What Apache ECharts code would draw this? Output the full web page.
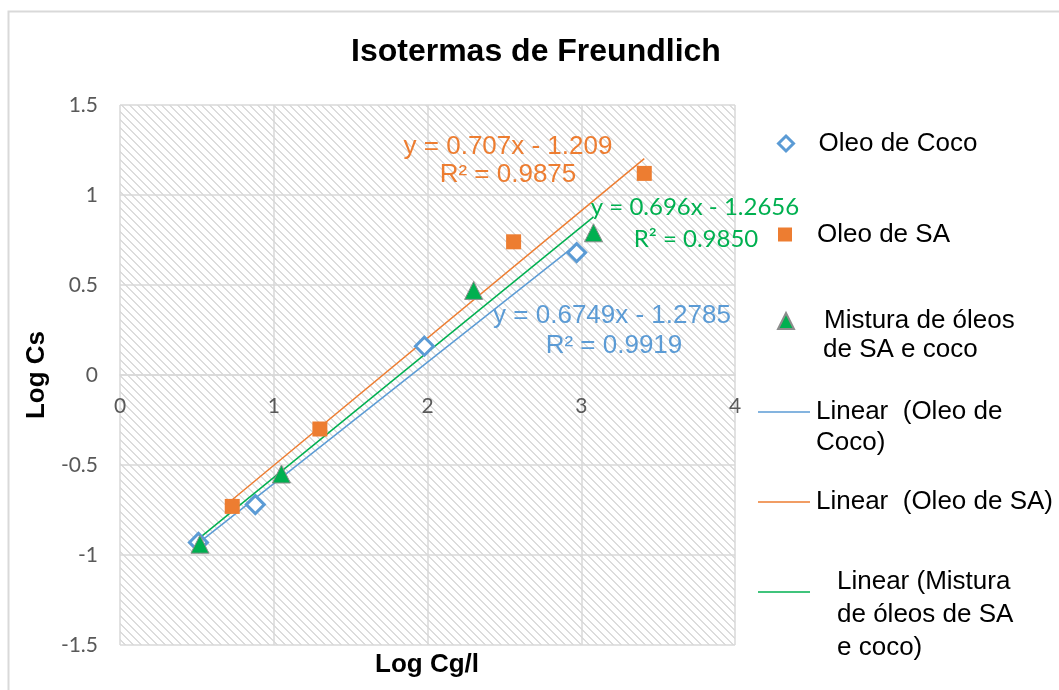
<!DOCTYPE html>
<html>
<head>
<meta charset="utf-8">
<script src="https://cdn.jsdelivr.net/npm/echarts@6/dist/echarts.min.js"></script>
<style>
  html, body { margin: 0; padding: 0; background: #fff; }
  #chart { width: 1059px; height: 690px; }
</style>
</head>
<body>
<div id="chart"></div>
<script>
// Log Cg/l (x) and Log Cs (y) for each oil
const seriesNames = ['Oleo de Coco', 'Oleo de SA', 'Mistura de óleos de SA e coco'];
const trendNames = ['Linear  (Oleo de Coco)', 'Linear  (Oleo de SA)', 'Linear (Mistura de óleos de SA e coco)'];
const cocoX = [0.51, 0.88, 1.98, 2.97];
const cocoY = [-0.93, -0.72, 0.16, 0.68];
const saX = [0.73, 1.30, 2.56, 3.41];
const saY = [-0.73, -0.30, 0.74, 1.12];
const mixX = [0.52, 1.05, 2.30, 3.08];
const mixY = [-0.94, -0.55, 0.47, 0.79];

// Fitted linear trend lines: y = slope * x + intercept
const slopes = [0.6749, 0.707, 0.696];
const intercepts = [-1.2785, -1.209, -1.2656];
const r2 = ['0.9919', '0.9875', '0.9850'];

// Axis ranges
const xMin = 0, xMax = 4, xStep = 1;
const yMin = -1.5, yMax = 1.5, yStep = 0.5;

const colors = ['#5b9bd5', '#ed7d31', '#00b050'];

function pairs(xs, ys) { return xs.map((x, i) => [x, ys[i]]); }
function fmt(n) { return (n < 0 ? ' - ' : ' + ') + Math.abs(n); }
function trend(i, xs) {
  const lo = Math.min(...xs), hi = Math.max(...xs);
  return [[lo, slopes[i] * lo + intercepts[i]], [hi, slopes[i] * hi + intercepts[i]]];
}
function eqText(i) { return 'y = ' + slopes[i] + 'x' + fmt(intercepts[i]); }

// Plot area geometry
const W = 1059, H = 690;
const gridBox = { left: 120, right: 324, top: 105, bottom: 45 };
const plotH = H - gridBox.top - gridBox.bottom;
// the horizontal axis crosses the vertical one at y = 0
const xAxisShift = -plotH * (0 - yMin) / (yMax - yMin);

// Diagonal hatch used as the plot area fill
const tile = document.createElement('canvas');
tile.width = 8; tile.height = 8;
const tc = tile.getContext('2d');
tc.fillStyle = '#ffffff';
tc.fillRect(0, 0, 8, 8);
tc.fillStyle = '#dcdcdc';
for (let i = 0; i < 8; i++) {
  tc.fillRect(i, i, 1, 1);
  tc.fillRect((i + 1) % 8, i, 1, 1);
}

const tickFont = { fontFamily: 'Lato', fontSize: 21, color: '#595959' };
const legendText = { fontFamily: 'Liberation Sans', fontSize: 26, color: '#000', lineHeight: 31 };
const legendFont = '26px "Liberation Sans"';

function legendLine(text, x, y) {
  return { type: 'text', x: x, y: y, z: 100, silent: true,
    style: { text: text, fill: '#000', align: 'left', verticalAlign: 'middle', font: legendFont } };
}
function eqLabel(text, x, y, color, font) {
  return { type: 'text', x: x, y: y, z: 100, silent: true,
    style: { text: text, fill: color, align: 'center', verticalAlign: 'middle', font: font } };
}

const chart = echarts.init(document.getElementById('chart'), null, { renderer: 'canvas' });

chart.setOption({
  animation: false,
  backgroundColor: '#fff',
  title: {
    text: 'Isotermas de Freundlich',
    left: 351, top: 36, padding: 0,
    textStyle: { fontFamily: 'Liberation Sans', fontWeight: 'bold', fontSize: 32, color: '#000' }
  },
  grid: Object.assign({
    show: true, borderWidth: 0,
    backgroundColor: { image: tile, repeat: 'repeat' }
  }, gridBox),
  xAxis: {
    type: 'value', min: xMin, max: xMax, interval: xStep,
    position: 'bottom', offset: xAxisShift,
    axisLine: { onZero: false, lineStyle: { color: '#d9d9d9', width: 1.5 } },
    axisTick: { show: false },
    axisLabel: Object.assign({ margin: 21 }, tickFont),
    splitLine: { lineStyle: { color: '#d9d9d9', width: 1.5 } }
  },
  yAxis: {
    type: 'value', min: yMin, max: yMax, interval: yStep,
    axisLine: { show: false }, axisTick: { show: false },
    axisLabel: Object.assign({ margin: 22 }, tickFont),
    splitLine: { lineStyle: { color: '#d9d9d9', width: 1.5 } },
    name: 'Log Cs', nameLocation: 'middle', nameGap: 50, nameRotate: 90,
    nameTextStyle: { fontFamily: 'Liberation Sans', fontWeight: 'bold', fontSize: 26, color: '#000' }
  },
  legend: [
    { data: [seriesNames[0]], left: 777, top: 128, padding: 0, itemWidth: 15, itemHeight: 15,
      itemStyle: { borderWidth: 3 },
      textStyle: Object.assign({}, legendText, { padding: [0, 0, 0, 20] }) },
    { data: [seriesNames[1]], left: 778, top: 219, padding: 0, itemWidth: 14, itemHeight: 14,
      textStyle: Object.assign({}, legendText, { padding: [0, 0, 0, 20] }) },
    { data: [seriesNames[2]], left: 777, top: 305.5, padding: 0, itemWidth: 16, itemHeight: 16,
      formatter: () => 'Mistura de óleos',
      textStyle: Object.assign({}, legendText, { padding: [0, 0, 0, 25] }) },
    { data: [{ name: trendNames[0], icon: 'rect' }], left: 758, top: 396.5, padding: 0, itemWidth: 52, itemHeight: 1.5,
      formatter: () => 'Linear  (Oleo de',
      textStyle: Object.assign({}, legendText, { padding: [0, 0, 0, 1] }) },
    { data: [{ name: trendNames[1], icon: 'rect' }], left: 758, top: 486.5, padding: 0, itemWidth: 52, itemHeight: 1.5,
      textStyle: Object.assign({}, legendText, { padding: [0, 0, 0, 1] }) },
    { data: [{ name: trendNames[2], icon: 'rect' }], left: 758, top: 591.25, padding: 0, itemWidth: 52, itemHeight: 1.5,
      formatter: () => '',
      textStyle: Object.assign({}, legendText, { lineHeight: 1, fontSize: 1 }) }
  ],
  graphic: [
    { type: 'rect', left: 6, top: 9, z: -10, silent: true,
      shape: { width: 1100, height: 700 },
      style: { fill: 'none', stroke: '#d9d9d9', lineWidth: 2 } },
    { type: 'text', x: 427, y: 665, z: 100, silent: true,
      style: { text: 'Log Cg/l', fill: '#000', align: 'center', verticalAlign: 'middle', font: 'bold 26px "Liberation Sans"' } },
    legendLine('de SA e coco', 823, 350),
    legendLine('Coco)', 816, 443),
    legendLine('Linear (Mistura', 837, 582),
    legendLine('de óleos de SA', 837, 615),
    legendLine('e coco)', 837, 648),
    eqLabel(eqText(1), 508, 147, colors[1], '26px "Liberation Sans"'),
    eqLabel('R² = ' + r2[1], 508, 175, colors[1], '26px "Liberation Sans"'),
    eqLabel(eqText(2), 695, 207, colors[2], '24px Lato'),
    eqLabel('R² = ' + r2[2], 696, 239, colors[2], '24px Lato'),
    eqLabel(eqText(0), 612, 316, colors[0], '26px "Liberation Sans"'),
    eqLabel('R² = ' + r2[0], 614, 346, colors[0], '26px "Liberation Sans"')
  ],
  series: [
    { name: trendNames[0], type: 'line', data: trend(0, cocoX), symbol: 'none', z: 2,
      lineStyle: { color: colors[0], width: 1.5 }, itemStyle: { color: colors[0] } },
    { name: trendNames[1], type: 'line', data: trend(1, saX), symbol: 'none', z: 2,
      lineStyle: { color: colors[1], width: 1.5 }, itemStyle: { color: colors[1] } },
    { name: trendNames[2], type: 'line', data: trend(2, mixX), symbol: 'none', z: 2,
      lineStyle: { color: colors[2], width: 1.5 }, itemStyle: { color: colors[2] } },
    { name: seriesNames[0], type: 'scatter', data: pairs(cocoX, cocoY), symbol: 'diamond', symbolSize: 18, z: 3,
      itemStyle: { color: '#fff', borderColor: colors[0], borderWidth: 3, opacity: 1 } },
    { name: seriesNames[1], type: 'scatter', data: pairs(saX, saY), symbol: 'rect', symbolSize: 15, z: 3,
      itemStyle: { color: colors[1], opacity: 1 } },
    { name: seriesNames[2], type: 'scatter', data: pairs(mixX, mixY), symbol: 'triangle', symbolSize: 18, z: 3,
      itemStyle: { color: colors[2], borderColor: '#8c8c8c', borderWidth: 1, opacity: 1 } }
  ]
});
</script>
</body>
</html>
